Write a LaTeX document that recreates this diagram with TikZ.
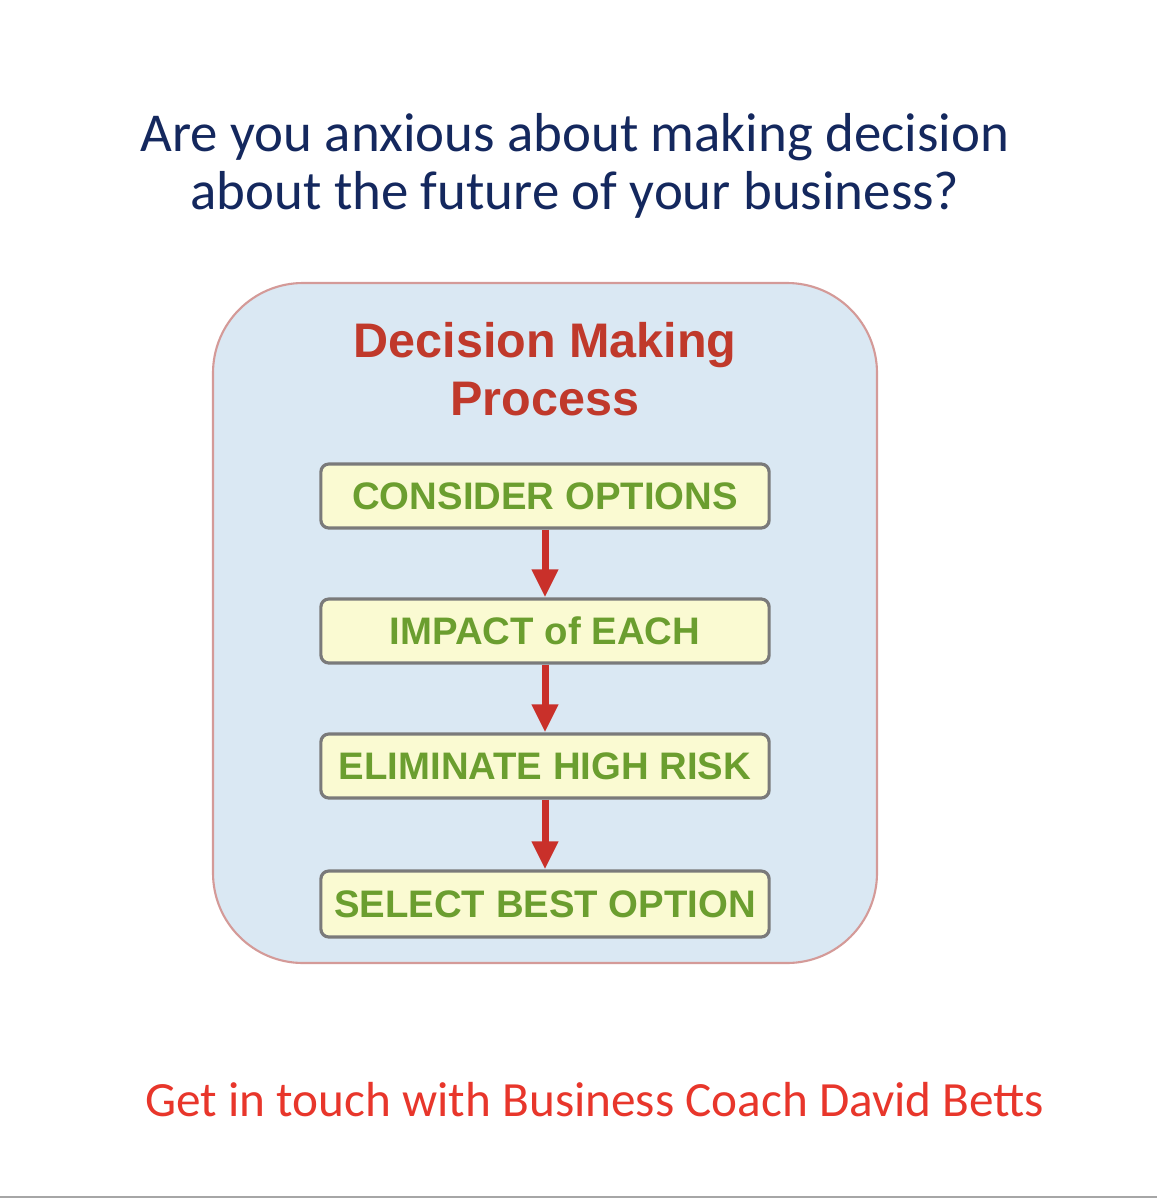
\documentclass[tikz,border=0pt]{standalone}
\usepackage{fontspec}
\setmainfont{Carlito}
\newfontfamily\arialf{Liberation Sans}
\usetikzlibrary{arrows.meta}
\definecolor{navy}{HTML}{14285E}
\definecolor{panelfill}{HTML}{DAE8F3}
\definecolor{panelline}{HTML}{D49A98}
\definecolor{headred}{HTML}{C0392B}
\definecolor{boxfill}{HTML}{FAFAD2}
\definecolor{boxline}{HTML}{7A7A7A}
\definecolor{txtgreen}{HTML}{6B9E2F}
\definecolor{arrred}{HTML}{C9302A}
\definecolor{footred}{HTML}{E8362B}
\tikzset{
 stepbox/.style={draw=boxline, line width=0.9pt, fill=boxfill, rounded corners=0.08cm, minimum width=4.48cm, minimum height=0.64cm, inner sep=0pt, font=\arialf\bfseries\fontsize{10.9pt}{12pt}\selectfont, text=txtgreen},
 flow/.style={draw=arrred, line width=0.07cm, -{Triangle[length=0.28cm,width=0.25cm]}}
}
\begin{document}
\begin{tikzpicture}[x=0.01cm,y=-0.01cm]
\useasboundingbox (0,0) rectangle (1157,1200);
\fill[white] (0,0) rectangle (1157,1200);
\draw[gray!70, line width=0.5pt] (0,1197) -- (1157,1197);
\node[text=navy, align=center, font=\fontsize{15.6pt}{16.6pt}\selectfont] (title) at (575,166) {Are you anxious about making decision\\about the future of your business?};
\draw[draw=panelline, fill=panelfill, line width=0.6pt, rounded corners=0.9cm] (213,283) rectangle (877,963);
\node[text=headred, align=center, font=\arialf\bfseries\fontsize{13.8pt}{16.5pt}\selectfont] (head) at (545,369) {Decision Making\\Process};
\node[stepbox] (s1) at (545,496) {CONSIDER OPTIONS};
\node[stepbox] (s2) at (545,631) {IMPACT of EACH};
\node[stepbox] (s3) at (545,766) {ELIMINATE HIGH RISK};
\node[stepbox, minimum height=0.66cm] (s4) at (545,904) {SELECT BEST OPTION};
\draw[flow] (s1) -- (s2);
\draw[flow] (s2) -- (s3);
\draw[flow] (s3) -- (s4);
\node[text=footred, font=\fontsize{14pt}{16.6pt}\selectfont] (foot) at (595,1100) {Get in touch with Business Coach David Betts};
\end{tikzpicture}
\end{document}
